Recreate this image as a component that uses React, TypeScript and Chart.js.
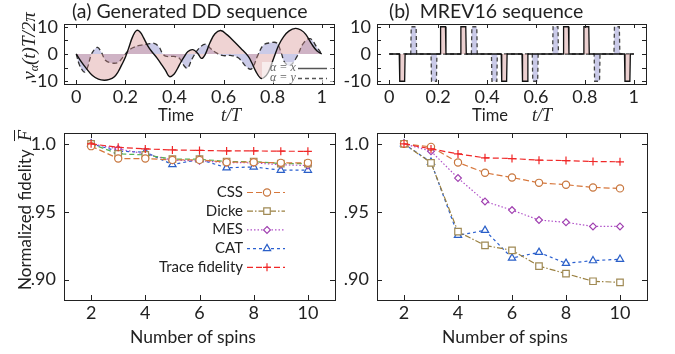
import React, { useEffect, useRef } from "react";
import { Chart, registerables } from "chart.js";
Chart.register(...registerables);

// ---------------- data ----------------
// (a) generated DD sequence: control amplitudes v_x(t), v_y(t) in units of 2π/T
const ddX: [number, number][] = [
  [0, 0], [0.02, -2.8], [0.04, -5.2], [0.066, -7.9], [0.09, -9.2], [0.114, -9.6], [0.135, -9.3],
  [0.154, -8.4], [0.17, -6.6], [0.185, -4.0], [0.2, -1.2], [0.215, 2.6], [0.229, 6.2], [0.245, 8.6],
  [0.26, 8.1], [0.275, 5.8], [0.29, 3.2], [0.305, 1.2], [0.33, -1.6], [0.35, -4.2], [0.364, -6.1],
  [0.38, -8.3], [0.398, -7.4], [0.412, -5.4], [0.425, -3.2], [0.44, -1.0], [0.455, 0.9], [0.475, 1.6],
  [0.495, 0.2], [0.51, -1.6], [0.525, -0.2], [0.545, 4.2], [0.565, 7.4], [0.588, 8.6], [0.615, 7.0],
  [0.645, 4.4], [0.67, 2.1], [0.7, -0.8], [0.715, -3.2], [0.73, -6.1], [0.75, -8.8], [0.765, -8.6],
  [0.782, -6.8], [0.805, -1.4], [0.825, 3.3], [0.845, 6.4], [0.866, 8.4], [0.893, 9.4], [0.915, 8.8],
  [0.935, 7.2], [0.96, 3.5], [0.98, 1.2], [1, 0],
];
const ddY: [number, number][] = [
  [0, 0], [0.012, -3.8], [0.026, -6.1], [0.034, -6.6], [0.046, -4.9], [0.06, -0.5], [0.075, 1.8],
  [0.087, 2.4], [0.1, 1.0], [0.12, -2.4], [0.14, -3.2], [0.168, -3.2], [0.188, -1.4], [0.209, 0.9],
  [0.23, 2.3], [0.26, 3.2], [0.29, 3.6], [0.317, 3.9], [0.337, 2.6], [0.35, 0.4], [0.364, -0.8],
  [0.398, -0.9], [0.419, -1.5], [0.44, -4.4], [0.453, -5.2], [0.473, -1.6], [0.5, 2.1], [0.527, 3.6],
  [0.545, 2.2], [0.573, 0.3], [0.6, -0.6], [0.627, -0.5], [0.66, -1.4], [0.695, -4.9], [0.715, -5.4],
  [0.74, -0.4], [0.763, 3.3], [0.79, 4.1], [0.817, 4.0], [0.835, 0.4], [0.85, -3.2], [0.871, -4.2],
  [0.9, -0.8], [0.925, 3.9], [0.953, 5.6], [0.98, 2.5], [1, 0],
];

// (b) MREV16 pulses: [start t/T, end t/T, amplitude]
const mrevXPulses: [number, number, number][] = [
  [0.041, 0.065, -10], [0.208, 0.232, 10], [0.291, 0.315, 10], [0.458, 0.482, -10],
  [0.543, 0.567, -10], [0.711, 0.735, 10], [0.794, 0.818, 10], [0.962, 0.986, -10],
];
const mrevYPulses: [number, number, number][] = [
  [0.088, 0.112, 10], [0.171, 0.195, -10], [0.336, 0.36, 10], [0.418, 0.442, -10],
  [0.585, 0.609, -10], [0.668, 0.692, 10], [0.838, 0.862, -10], [0.919, 0.943, 10],
];

const timeTicks = [0, 0.2, 0.4, 0.6, 0.8, 1];
const ampTicks = [-10, 0, 10];
const ampMinorTicks = [-10, -5, 0, 5, 10];

// fidelity vs number of spins
const spins = [2, 3, 4, 5, 6, 7, 8, 9, 10];
const cssDD = [0.9983, 0.9892, 0.9892, 0.9882, 0.9882, 0.9865, 0.9865, 0.986, 0.986];
const dickeDD = [1.0, 0.9926, 0.9919, 0.9887, 0.9887, 0.987, 0.987, 0.9855, 0.9855];
const mesDD = [1.0, 0.9963, 0.9926, 0.988, 0.9875, 0.9863, 0.986, 0.9846, 0.984];
const catDD = [1.0, 0.9946, 0.9939, 0.9848, 0.9885, 0.9824, 0.983, 0.9806, 0.9806];
const traceDD = [1.0, 0.9975, 0.9963, 0.9955, 0.9952, 0.9948, 0.9948, 0.9946, 0.9945];

const cssM = [1.0, 0.9978, 0.9863, 0.9787, 0.9752, 0.9713, 0.9699, 0.9679, 0.9672];
const dickeM = [1.0, 0.986, 0.9353, 0.9252, 0.9216, 0.91, 0.9044, 0.8988, 0.898];
const mesM = [1.0, 0.9946, 0.9748, 0.9576, 0.9512, 0.9439, 0.9422, 0.9392, 0.9392];
const catM = [1.0, 0.9865, 0.9326, 0.9363, 0.9159, 0.9201, 0.912, 0.914, 0.915];
const traceM = [1.0, 0.9963, 0.9926, 0.9897, 0.9892, 0.988, 0.9877, 0.987, 0.9868];

const spinTicks = [2, 4, 6, 8, 10];
const fidTicks = [0.9, 0.95, 1.0];
const fidTickLabels = [".90", ".95", "1.0"];
const seriesNames = ["CSS", "Dicke", "MES", "CAT", "Trace fidelity"];

// ---------------- styles ----------------
const W = 675;
const H = 354;
const YW = 50;
const XH = 30;
const FONT = "Lato";
const TEXT = "#222";

const COL = {
  css: "#d7773c", cssM: "#c8773f",
  dicke: "#9a8040", dickeL: "#55b255", dickeM: "#a08a55",
  mes: "#b050c8", mesM: "#a040b0",
  cat: "#2a5fd0", catM: "#2a5fc8",
  trace: "#f02828",
};
const DASH = {
  css: [6, 3], dicke: [6, 2, 1.5, 2], dickeL: [5, 3], mes: [1.5, 2], cat: [3, 3], trace: [6, 3],
};

type Box = { left: number; right: number; top: number; bottom: number };
const boxTL: Box = { left: 64, right: 334, top: 24, bottom: 84 };
const boxTR: Box = { left: 377, right: 646, top: 24, bottom: 84 };
const boxBL: Box = { left: 64, right: 335, top: 133, bottom: 300 };
const boxBR: Box = { left: 377, right: 647, top: 133, bottom: 300 };

function axis(kind: "x" | "y", min: number, max: number, ticks: number[], fmt: (v: number) => string, pad: number, fontSize: number) {
  return {
    type: "linear",
    min,
    max,
    grid: { display: false, drawTicks: false },
    border: { display: false },
    ticks: {
      autoSkip: false,
      maxRotation: 0,
      padding: pad,
      color: TEXT,
      font: { family: FONT, size: fontSize },
      callback: (v: any) => fmt(Number(v)),
    },
    afterBuildTicks: (s: any) => {
      s.ticks = ticks.map((v) => ({ value: v }));
    },
    afterFit: (s: any) => {
      if (kind === "x") s.height = XH;
      else s.width = YW;
    },
  };
}

function options(box: Box, x: any, y: any) {
  return {
    responsive: false,
    animation: false,
    events: [],
    layout: {
      padding: { left: box.left - YW, top: box.top, right: W - box.right, bottom: H - box.bottom - XH },
    },
    plugins: { legend: { display: false }, tooltip: { enabled: false }, title: { display: false } },
    scales: { x, y },
  };
}

function framePlugin(xt: number[], yt: number[], len: number) {
  return {
    id: "frame",
    afterDatasetsDraw(chart: any) {
      const { ctx, chartArea: a, scales } = chart;
      ctx.save();
      ctx.strokeStyle = "#222";
      ctx.lineWidth = 1;
      ctx.setLineDash([]);
      ctx.strokeRect(Math.round(a.left) + 0.5, Math.round(a.top) + 0.5, Math.round(a.right - a.left), Math.round(a.bottom - a.top));
      ctx.beginPath();
      for (const v of xt) {
        const px = Math.round(scales.x.getPixelForValue(v)) + 0.5;
        ctx.moveTo(px, a.bottom);
        ctx.lineTo(px, a.bottom - len);
        ctx.moveTo(px, a.top);
        ctx.lineTo(px, a.top + len);
      }
      for (const v of yt) {
        const py = Math.round(scales.y.getPixelForValue(v)) + 0.5;
        ctx.moveTo(a.left, py);
        ctx.lineTo(a.left + len, py);
        ctx.moveTo(a.right, py);
        ctx.lineTo(a.right - len, py);
      }
      ctx.stroke();
      ctx.restore();
    },
  };
}

const fmtTime = (v: number) => (v === 0 || v === 1 ? String(v) : v.toFixed(1));
const fmtAmp = (v: number) => String(v);
const fmtSpin = (v: number) => String(v);
const fmtFid = (v: number) => {
  const i = fidTicks.findIndex((t) => Math.abs(t - v) < 1e-6);
  return i >= 0 ? fidTickLabels[i] : "";
};

function toPts(arr: [number, number][]) {
  return arr.map(([x, y]) => ({ x, y }));
}
const RAMP = 0.002;
function pulsePts(p: [number, number, number][]) {
  const pts = [{ x: 0, y: 0 }];
  for (const [a, b, v] of p) {
    pts.push({ x: a, y: 0 }, { x: a + RAMP, y: v }, { x: b - RAMP, y: v }, { x: b, y: 0 });
  }
  pts.push({ x: 1, y: 0 });
  return pts;
}

function drawMarker(ctx: CanvasRenderingContext2D, style: string, x: number, y: number, r: number, color: string) {
  ctx.save();
  ctx.setLineDash([]);
  ctx.strokeStyle = color;
  ctx.fillStyle = "#fff";
  ctx.lineWidth = 1.2;
  ctx.beginPath();
  if (style === "circle") ctx.arc(x, y, r, 0, Math.PI * 2);
  else if (style === "rect") ctx.rect(x - r * 0.707, y - r * 0.707, r * 1.414, r * 1.414);
  else if (style === "rectRot") {
    ctx.moveTo(x, y - r); ctx.lineTo(x + r, y); ctx.lineTo(x, y + r); ctx.lineTo(x - r, y); ctx.closePath();
  } else if (style === "triangle") {
    ctx.moveTo(x, y - r); ctx.lineTo(x + r * 0.866, y + r * 0.5); ctx.lineTo(x - r * 0.866, y + r * 0.5); ctx.closePath();
  } else if (style === "cross") {
    ctx.moveTo(x - r, y); ctx.lineTo(x + r, y); ctx.moveTo(x, y - r); ctx.lineTo(x, y + r);
  }
  if (style !== "cross") ctx.fill();
  ctx.stroke();
  ctx.restore();
}

const MARK = {
  css: { s: "circle", r: 3.6 },
  dicke: { s: "rect", r: 4.6 },
  mes: { s: "rectRot", r: 3.4 },
  cat: { s: "triangle", r: 4.2 },
  trace: { s: "cross", r: 4 },
};

function spinDs(label: string, vals: number[], color: string, dash: number[], mk: { s: string; r: number }, mcol: string) {
  return {
    label,
    data: spins.map((s, i) => ({ x: s, y: vals[i] })),
    borderColor: color,
    borderWidth: 1.2,
    borderDash: dash,
    pointStyle: mk.s,
    pointRadius: mk.r,
    pointBorderColor: mcol,
    pointBackgroundColor: "#fff",
    pointBorderWidth: 1.2,
    fill: false,
    tension: 0,
  };
}

function cfgTL(): any {
  return {
    type: "line",
    data: {
      datasets: [
        {
          data: toPts(ddX), borderColor: "#111", borderWidth: 1.4, pointRadius: 0, tension: 0.4,
          fill: "origin", backgroundColor: "rgba(212,140,140,0.38)",
        },
        {
          data: toPts(ddY), borderColor: "#333", borderWidth: 1.3, borderDash: [5, 3], pointRadius: 0, tension: 0.4,
          fill: "origin", backgroundColor: "rgba(140,140,205,0.45)",
        },
      ],
    },
    options: options(boxTL, axis("x", -0.05, 1.05, timeTicks, fmtTime, 2, 18), axis("y", -11, 11, ampTicks, fmtAmp, 6, 18)),
    plugins: [
      framePlugin(timeTicks, ampMinorTicks, 4),
      {
        id: "ddLegend",
        afterDatasetsDraw(chart: any) {
          const ctx = chart.ctx as CanvasRenderingContext2D;
          ctx.save();
          ctx.fillStyle = "rgba(255,255,255,0.6)";
          ctx.fillRect(262, 62, 71, 21);
          ctx.fillStyle = "#666";
          ctx.font = "italic 12px 'Liberation Serif'";
          ctx.textBaseline = "middle";
          ctx.textAlign = "left";
          ctx.fillText("α = x", 270, 68);
          ctx.fillText("α = y", 270, 78);
          ctx.strokeStyle = "#555";
          ctx.lineWidth = 1.5;
          ctx.beginPath(); ctx.moveTo(298, 68.5); ctx.lineTo(327, 68.5); ctx.stroke();
          ctx.setLineDash([4, 3]);
          ctx.beginPath(); ctx.moveTo(298, 78.5); ctx.lineTo(327, 78.5); ctx.stroke();
          ctx.restore();
        },
      },
    ],
  };
}

function cfgTR(): any {
  return {
    type: "line",
    data: {
      datasets: [
        {
          data: pulsePts(mrevXPulses), borderColor: "#111", borderWidth: 1.3, pointRadius: 0, tension: 0,
          fill: "origin", backgroundColor: "rgba(212,150,150,0.45)",
        },
        {
          data: pulsePts(mrevYPulses), borderColor: "#444", borderWidth: 1.3, borderDash: [4, 3], pointRadius: 0, tension: 0,
          fill: "origin", backgroundColor: "rgba(150,150,210,0.5)",
        },
      ],
    },
    options: options(boxTR, axis("x", -0.05, 1.05, timeTicks, fmtTime, 2, 18), axis("y", -11, 11, ampTicks, fmtAmp, 6, 18)),
    plugins: [framePlugin(timeTicks, ampMinorTicks, 4)],
  };
}

function cfgBL(): any {
  return {
    type: "line",
    data: {
      datasets: [
        spinDs(seriesNames[4], traceDD, COL.trace, DASH.trace, MARK.trace, COL.trace),
        spinDs(seriesNames[0], cssDD, COL.css, DASH.css, MARK.css, COL.cssM),
        spinDs(seriesNames[1], dickeDD, COL.dickeL, DASH.dickeL, MARK.dicke, COL.dickeM),
        spinDs(seriesNames[2], mesDD, COL.mes, DASH.mes, MARK.mes, COL.mesM),
        spinDs(seriesNames[3], catDD, COL.cat, DASH.cat, MARK.cat, COL.catM),
      ],
    },
    options: options(boxBL, axis("x", 1, 11, spinTicks, fmtSpin, 2, 18), axis("y", 0.885, 1.008, fidTicks, fmtFid, 8, 18)),
    plugins: [
      framePlugin(spinTicks, fidTicks, 5),
      {
        id: "spinLegend",
        afterDatasetsDraw(chart: any) {
          const ctx = chart.ctx as CanvasRenderingContext2D;
          const items = [
            { c: COL.css, d: DASH.css, m: MARK.css, mc: COL.cssM },
            { c: COL.dicke, d: DASH.dicke, m: MARK.dicke, mc: COL.dickeM },
            { c: COL.mes, d: DASH.mes, m: MARK.mes, mc: COL.mesM },
            { c: COL.cat, d: DASH.cat, m: MARK.cat, mc: COL.catM },
            { c: COL.trace, d: DASH.trace, m: MARK.trace, mc: COL.trace },
          ];
          ctx.save();
          items.forEach((it, i) => {
            const y = 192 + i * 18.7;
            ctx.fillStyle = TEXT;
            ctx.font = `15px ${FONT}`;
            ctx.textAlign = "right";
            ctx.textBaseline = "middle";
            ctx.fillText(seriesNames[i], 243, y);
            ctx.strokeStyle = it.c;
            ctx.lineWidth = 1.2;
            ctx.setLineDash(it.d);
            ctx.beginPath();
            ctx.moveTo(247, y + 0.5);
            ctx.lineTo(285, y + 0.5);
            ctx.stroke();
            drawMarker(ctx, it.m.s, 267, y + 0.5, it.m.r, it.mc);
          });
          ctx.restore();
        },
      },
    ],
  };
}

function cfgBR(): any {
  return {
    type: "line",
    data: {
      datasets: [
        spinDs(seriesNames[4], traceM, COL.trace, DASH.trace, MARK.trace, COL.trace),
        spinDs(seriesNames[0], cssM, COL.css, DASH.css, MARK.css, COL.cssM),
        spinDs(seriesNames[1], dickeM, COL.dicke, DASH.dicke, MARK.dicke, COL.dickeM),
        spinDs(seriesNames[2], mesM, COL.mes, DASH.mes, MARK.mes, COL.mesM),
        spinDs(seriesNames[3], catM, COL.cat, DASH.cat, MARK.cat, COL.catM),
      ],
    },
    options: options(boxBR, axis("x", 1, 11, spinTicks, fmtSpin, 2, 18), axis("y", 0.885, 1.008, fidTicks, fmtFid, 8, 18)),
    plugins: [framePlugin(spinTicks, fidTicks, 5)],
  };
}

const abs = (s: React.CSSProperties): React.CSSProperties => ({ position: "absolute", whiteSpace: "pre", color: TEXT, lineHeight: 1, ...s });
const mathFont = "'Liberation Serif', 'DejaVu Serif', serif";

export default function App() {
  const r1 = useRef<HTMLCanvasElement>(null);
  const r2 = useRef<HTMLCanvasElement>(null);
  const r3 = useRef<HTMLCanvasElement>(null);
  const r4 = useRef<HTMLCanvasElement>(null);

  useEffect(() => {
    const charts = [
      new Chart(r1.current!, cfgTL()),
      new Chart(r2.current!, cfgTR()),
      new Chart(r3.current!, cfgBL()),
      new Chart(r4.current!, cfgBR()),
    ];
    return () => charts.forEach((c) => c.destroy());
  }, []);

  const cv: React.CSSProperties = { position: "absolute", left: 0, top: 0, width: W, height: H };

  return (
    <div style={{ position: "absolute", left: 0, top: 0, width: W, height: H, background: "#fff", overflow: "hidden", fontFamily: FONT }}>
      <canvas ref={r1} width={W} height={H} style={cv} />
      <canvas ref={r2} width={W} height={H} style={cv} />
      <canvas ref={r3} width={W} height={H} style={cv} />
      <canvas ref={r4} width={W} height={H} style={cv} />

      <div style={abs({ left: 72, top: 1, fontSize: 19.5 })}>(a) Generated DD sequence</div>
      <div style={abs({ left: 389, top: 1, fontSize: 19.5 })}>(b)  MREV16 sequence</div>

      <div style={abs({ left: 29, top: 46, transform: "translate(-50%,-50%) rotate(-90deg)", fontFamily: mathFont, fontStyle: "italic", fontSize: 19 })}>
        v<sub style={{ fontSize: 12, verticalAlign: "-3px" }}>α</sub>(t)T/2π
      </div>

      <div style={abs({ left: 176, top: 115, transform: "translate(-50%,-50%)", fontSize: 16.5 })}>Time</div>
      <div style={abs({ left: 231, top: 115, transform: "translate(-50%,-50%)", fontFamily: mathFont, fontStyle: "italic", fontSize: 18 })}>t/T</div>
      <div style={abs({ left: 490, top: 115, transform: "translate(-50%,-50%)", fontSize: 16.5 })}>Time</div>
      <div style={abs({ left: 542, top: 115, transform: "translate(-50%,-50%)", fontFamily: mathFont, fontStyle: "italic", fontSize: 18 })}>t/T</div>

      <div style={abs({ left: 25, top: 210, transform: "translate(-50%,-50%) rotate(-90deg)", fontSize: 17 })}>
        Normalized fidelity  <span style={{ fontFamily: mathFont, fontStyle: "italic", fontSize: 18, textDecoration: "overline" }}>F</span>
      </div>

      <div style={abs({ left: 193, top: 337, transform: "translate(-50%,-50%)", fontSize: 17.5 })}>Number of spins</div>
      <div style={abs({ left: 505, top: 337, transform: "translate(-50%,-50%)", fontSize: 17.5 })}>Number of spins</div>
    </div>
  );
}
